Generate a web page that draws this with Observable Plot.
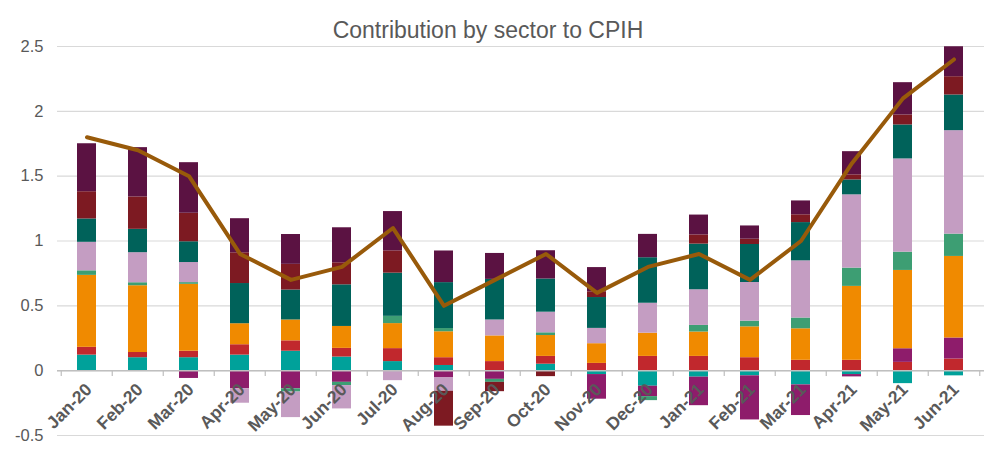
<!DOCTYPE html>
<html>
<head>
<meta charset="utf-8">
<script src="https://cdn.jsdelivr.net/npm/d3@7"></script>
<script src="https://cdn.jsdelivr.net/npm/@observablehq/plot@0.6"></script>
<style>
  html, body { margin: 0; padding: 0; background: #fff; }
  #wrap { position: relative; width: 1000px; height: 455px; font-family: "Liberation Sans", Arial, sans-serif; }
  #title { position: absolute; left: 0; width: 976px; top: 17px; text-align: center; font-size: 23px; color: #595959; line-height: normal; }
  #chart { position: absolute; left: 0; top: 0; }
</style>
</head>
<body>
<div id="wrap">
  <div id="chart"></div>
  <div id="title">Contribution by sector to CPIH</div>
</div>
<script>
const months = ["Jan-20","Feb-20","Mar-20","Apr-20","May-20","Jun-20","Jul-20","Aug-20","Sep-20","Oct-20","Nov-20","Dec-20","Jan-21","Feb-21","Mar-21","Apr-21","May-21","Jun-21"];
const cpih = [1.8,1.7,1.5,0.9,0.7,0.8,1.1,0.5,0.7,0.9,0.6,0.8,0.9,0.7,1.0,1.6,2.1,2.4];

const seriesNames = ["teal","red","magenta","orange","green","lilac","darkteal","darkred","darkpurple"];
const seriesColors = ["#00A19A","#C1282D","#8E1C6B","#F08A00","#3D9E73","#C49DC2","#00625A","#7D1A22","#5B1242"];

const teal       = [0.12, 0.10, 0.10, 0.12, 0.15, 0.105, 0.07, 0.04, 0, 0.05, -0.03, -0.12, -0.05, -0.04, -0.11, -0.03, -0.10, -0.04];
const red        = [0.06, 0.04, 0.05, 0.08, 0.08, 0.067, 0.10, 0.06, 0.07, 0.06, 0.056, 0.11, 0.11, 0.10, 0.08, 0.08, 0.064, 0.09];
const magenta    = [0, 0, -0.06, -0.14, -0.14, -0.09, 0, -0.056, -0.067, 0, -0.19, -0.08, -0.22, -0.34, -0.236, -0.018, 0.105, 0.162];
const orange     = [0.555, 0.515, 0.516, 0.162, 0.161, 0.169, 0.193, 0.20, 0.198, 0.161, 0.152, 0.179, 0.188, 0.238, 0.243, 0.57, 0.604, 0.629];
const green      = [0.035, 0.023, 0.013, 0, -0.025, -0.025, 0.056, 0.025, -0.023, 0.021, 0, -0.031, 0.051, 0.044, 0.083, 0.141, 0.141, 0.172];
const lilac      = [0.22, 0.232, 0.155, -0.111, -0.197, -0.18, -0.077, -0.103, 0.123, 0.159, 0.118, 0.231, 0.275, 0.298, 0.441, 0.565, 0.719, 0.798];
const darkteal   = [0.18, 0.18, 0.16, 0.31, 0.231, 0.321, 0.333, 0.354, 0.313, 0.256, 0.238, 0.351, 0.352, 0.293, 0.295, 0.115, 0.262, 0.275];
const darkred    = [0.21, 0.25, 0.22, 0.237, 0.198, 0.17, 0.172, -0.269, -0.072, -0.046, 0.044, 0, 0.071, 0.041, 0.06, 0.039, 0.077, 0.141];
const darkpurple = [0.37, 0.38, 0.39, 0.263, 0.23, 0.27, 0.303, 0.244, 0.20, 0.218, 0.187, 0.18, 0.153, 0.102, 0.107, 0.179, 0.249, 0.231];

const seriesValues = [teal, red, magenta, orange, green, lilac, darkteal, darkred, darkpurple];
const yTicks = [-0.5, 0, 0.5, 1, 1.5, 2, 2.5];

const bars = [];
months.forEach((m, i) => {
  seriesNames.forEach((s, k) => {
    bars.push({month: m, series: s, value: seriesValues[k][i]});
  });
});
const lineData = months.map((m, i) => ({month: m, value: cpih[i]}));

const W = 1000, H = 455, ML = 57, MR = 16;
const step = (W - ML - MR) / months.length;

const chart = Plot.plot({
  width: W,
  height: H,
  marginTop: 46,
  marginBottom: 20,
  marginLeft: ML,
  marginRight: MR,
  style: {fontFamily: "'Liberation Sans', Arial, sans-serif", background: "transparent"},
  x: {domain: months, type: "band", paddingInner: 0.62, paddingOuter: 0.31, axis: null},
  y: {domain: [-0.5, 2.5], axis: null},
  color: {domain: seriesNames, range: seriesColors},
  marks: [
    Plot.ruleY(yTicks, {stroke: "#d9d9d9", strokeWidth: 1.2}),
    Plot.axisY(yTicks, {label: null, tickSize: 0, tickPadding: 14, fontSize: 16.5, fill: "#595959", tickFormat: d => String(d)}),
    Plot.barY(bars, {x: "month", y: "value", fill: "series"}),
    Plot.ruleY([0], {stroke: "#bfbfbf", strokeWidth: 1.5}),
    Plot.ruleX(months, {x: d => d, dx: -step / 2, y1: 0, y2: -0.045, stroke: "#bfbfbf", strokeWidth: 1.2}),
    Plot.ruleX([months[months.length - 1]], {x: d => d, dx: step / 2, y1: 0, y2: -0.045, stroke: "#bfbfbf", strokeWidth: 1.2}),
    Plot.line(lineData, {x: "month", y: "value", stroke: "#985A0A", strokeWidth: 4, strokeLinejoin: "round", strokeLinecap: "round"}),
    Plot.text(months, {x: d => d, y: d => 0, text: d => d, rotate: -45, textAnchor: "end", lineAnchor: "middle", dx: 2, dy: 16, fontSize: 17.5, fontWeight: "bold", fill: "#595959"})
  ]
});
document.getElementById("chart").appendChild(chart);
</script>
</body>
</html>
